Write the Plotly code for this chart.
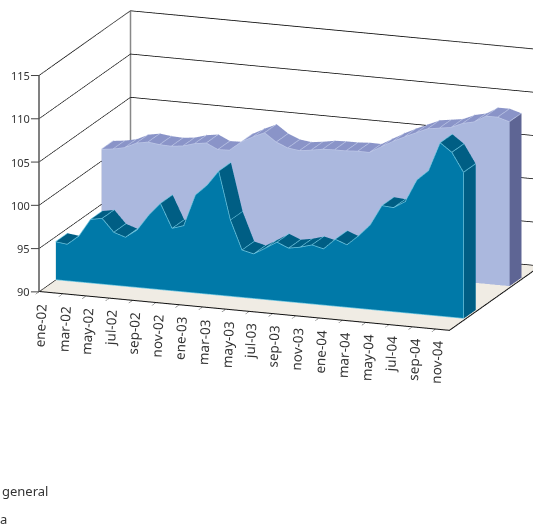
import math
import plotly.graph_objects as go

months = ["ene","feb","mar","abr","may","jun","jul","ago","sep","oct","nov","dic"]
categories = [f"{months[i % 12]}-{2 + i // 12:02d}" for i in range(36)]
front_values = [94.41,94.24,95.32,97.37,97.62,96.14,95.69,96.66,98.51,99.99,97.23,97.67,
                101.34,102.6,104.36,98.84,95.5,95.17,95.96,96.78,96.22,96.46,96.85,96.52,
                97.76,97.24,98.41,99.8,102.15,102.05,102.87,105.5,106.7,110.06,109.08,106.9]
back_values = [101.35,101.51,101.8,102.45,102.7,102.53,102.47,102.63,103.03,103.23,102.6,102.65,
               103.73,104.44,105.05,104.1,103.55,103.37,103.55,103.79,103.84,103.85,103.94,103.92,
               104.69,105.44,106.1,106.7,107.3,107.5,107.7,108.3,108.6,109.4,109.4,109.0]
front_depth = [0.185, 0.315]
back_depth = [0.685, 0.815]
z_ticks = [90, 95, 100, 105, 110, 115]
x_tickvals = list(range(0, 36, 2))
x_ticktext = categories[0::2]
legend_labels = ["general", "a"]

Z0 = 90
XMAX = 35.2
FRONT = dict(face="#0079A8", top="#005E84", side="#005E84", line="#6EC5E0")
BACK = dict(face="#ABB8DE", top="#8A94C8", side="#5E6594", line="#BCC6E6")


def ribbon(values, depth, style):
    n = len(values)
    y0, y1 = depth
    xs, ys, zs, I, J, K, colors = [], [], [], [], [], [], []

    def quad(p, color):
        b = len(xs)
        for q in p:
            xs.append(q[0]); ys.append(q[1]); zs.append(q[2])
        I.extend([b, b]); J.extend([b + 1, b + 2]); K.extend([b + 2, b + 3])
        colors.extend([color, color])

    for i in range(n - 1):
        a, c = values[i], values[i + 1]
        quad([(i, y0, Z0), (i + 1, y0, Z0), (i + 1, y0, c), (i, y0, a)], style["face"])
        quad([(i, y1, Z0), (i + 1, y1, Z0), (i + 1, y1, c), (i, y1, a)], style["face"])
        quad([(i, y0, a), (i + 1, y0, c), (i + 1, y1, c), (i, y1, a)], style["top"])
    last = n - 1
    quad([(last, y0, Z0), (last, y1, Z0), (last, y1, values[-1]), (last, y0, values[-1])], style["side"])
    quad([(0, y0, Z0), (0, y1, Z0), (0, y1, values[0]), (0, y0, values[0])], style["side"])
    return go.Mesh3d(x=xs, y=ys, z=zs, i=I, j=J, k=K, facecolor=colors, flatshading=True,
                     lighting=dict(ambient=1, diffuse=0, specular=0, fresnel=0, roughness=1),
                     hoverinfo="skip", showscale=False)


def outline(values, depth, style, base=True):
    n = len(values)
    y0, y1 = depth
    eps = 0.004
    xs, ys, zs = [], [], []
    for i, v in enumerate(values):
        xs.append(i); ys.append(y0 - eps); zs.append(v + 0.03)
    xs.append(None); ys.append(None); zs.append(None)
    if base:
        xs += [0, n - 1, n - 1, None]; ys += [y0 - eps, y0 - eps, y0 - eps, None]; zs += [Z0 + 0.05, Z0 + 0.05, values[-1], None]
    for i, v in enumerate(values):
        xs += [i, i, None]; ys += [y0, y1, None]; zs += [v + 0.03, v + 0.03, None]
    return go.Scatter3d(x=xs, y=ys, z=zs, mode="lines", line=dict(color=style["line"], width=1.5),
                        hoverinfo="skip", showlegend=False)


def frame(points, color, width):
    xs, ys, zs = zip(*points)
    return go.Scatter3d(x=xs, y=ys, z=zs, mode="lines", line=dict(color=color, width=width),
                        hoverinfo="skip", showlegend=False)


fig = go.Figure([
    ribbon(back_values, back_depth, BACK), outline(back_values, back_depth, BACK, base=False),
    ribbon(front_values, front_depth, FRONT), outline(front_values, front_depth, FRONT),
    frame([(0, 0, 115), (0, 1, 115), (XMAX, 1, 115)], "#777777", 2),
    frame([(0, 1, 90), (0, 1, 115)], "#888888", 3),
    frame([(0, 0, 90), (0, 0, 115)], "#555555", 3),
    frame([(0, 0.002, 90.03), (XMAX, 0.002, 90.03), (XMAX, 1, 90.03)], "#111111", 2),
])

a = math.radians(69.9); e = math.radians(15)
R = 2.0
c = dict(x=-0.052, y=-0.116, z=-0.34)
eye = dict(x=c["x"] + R * math.cos(e) * math.cos(a), y=c["y"] - R * math.cos(e) * math.sin(a), z=c["z"] + R * math.sin(e))
font = "Noto Sans"
text_color = "#333333"
scene_annotations = [
    dict(x=v, y=0, z=90, text=t, showarrow=False, textangle=-87, xanchor="center", yanchor="top",
         xshift=2, yshift=-9, font=dict(family=font, size=13.5, color=text_color))
    for v, t in zip(x_tickvals, x_ticktext)
] + [
    dict(x=0, y=0, z=v, text=str(v), showarrow=True, arrowhead=0, arrowwidth=1, arrowcolor="#444444",
         ax=-8, ay=0, xanchor="right", yanchor="middle", standoff=0, borderpad=0,
         font=dict(family=font, size=11, color=text_color))
    for v in z_ticks
]
fig.update_layout(
    width=533, height=527, margin=dict(l=0, r=0, t=0, b=0), paper_bgcolor="white",
    showlegend=False,
    scene=dict(
        domain=dict(x=[0, 1], y=[0, 1]),
        aspectmode="manual", aspectratio=dict(x=1.658, y=1.011, z=0.85),
        camera=dict(eye=eye, up=dict(x=0, y=0, z=1), center=c,
                    projection=dict(type="orthographic")),
        annotations=scene_annotations,
        xaxis=dict(range=[0, XMAX], tickvals=x_tickvals, ticktext=x_ticktext, showticklabels=False,
                   showgrid=False, zeroline=False, showline=False, ticks="outside", ticklen=5, tickcolor="#222",
                   title="", showbackground=False, showspikes=False),
        yaxis=dict(range=[0, 1], showticklabels=False, ticks="", showgrid=False, zeroline=False, showline=False,
                   title="", showbackground=False, showspikes=False),
        zaxis=dict(range=[90, 115], tickvals=z_ticks, showticklabels=False, showgrid=True, gridcolor="#000", gridwidth=1.5,
                   zeroline=False, showline=False, ticks="",
                   title="", backgroundcolor="#F0ECE4", showbackground=True, showspikes=False),
    ),
    annotations=[
        dict(text=legend_labels[0], xref="paper", yref="paper", x=49 / 533, y=1 - 491 / 527, xanchor="right",
             yanchor="middle", showarrow=False, xshift=1, font=dict(family=font, size=13, color=text_color)),
        dict(text=legend_labels[1], xref="paper", yref="paper", x=8 / 533, y=1 - 519 / 527, xanchor="right",
             yanchor="middle", showarrow=False, xshift=1, font=dict(family=font, size=13, color=text_color)),
    ],
)
fig.write_html("out.html", config=dict(displayModeBar=False), post_script="document.body.style.margin='0';")
